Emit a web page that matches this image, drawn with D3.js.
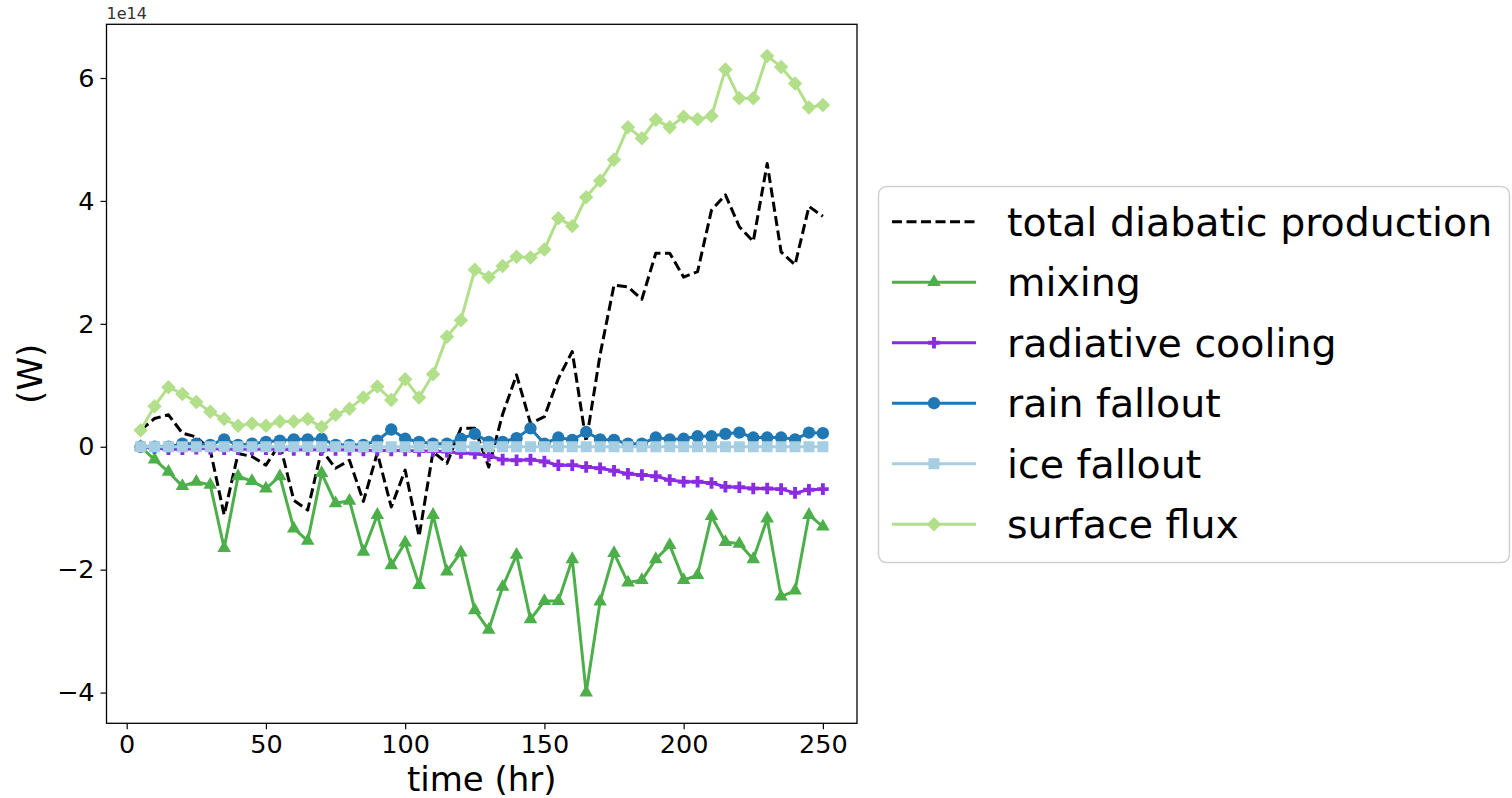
<!DOCTYPE html>
<html>
<head>
<meta charset="utf-8">
<script src="https://cdn.jsdelivr.net/npm/d3@7"></script>
<style>
  html, body { margin: 0; padding: 0; background: #fff; }
  svg { display: block; font-family: "DejaVu Sans", sans-serif; }
</style>
</head>
<body>
<svg id="chart" width="1512" height="798"></svg>
<script>
// ---- data (values in units of 1e14 W) ----
const time = d3.range(5, 251, 5);
const totalDiabatic = [0.27, 0.46, 0.52, 0.22, 0.16, -0.05, -1.11, -0.11, -0.16, -0.30,
  0.05, -0.87, -1.03, -0.05, -0.35, -0.22, -0.89, -0.10, -0.98, -0.38,
  -1.46, -0.08, -0.27, 0.30, 0.30, -0.33, 0.53, 1.17, 0.38, 0.49,
  1.11, 1.55, 0.08, 1.50, 2.63, 2.60, 2.40, 3.15, 3.15, 2.76,
  2.85, 3.85, 4.10, 3.58, 3.34, 4.61, 3.17, 2.96, 3.91, 3.75];
const mixing = [0.0, -0.21, -0.41, -0.64, -0.57, -0.62, -1.65, -0.48, -0.56, -0.68,
  -0.48, -1.33, -1.53, -0.43, -0.92, -0.88, -1.71, -1.11, -1.93, -1.56,
  -2.25, -1.11, -2.03, -1.72, -2.66, -2.98, -2.28, -1.76, -2.81, -2.51,
  -2.51, -1.83, -4.00, -2.52, -1.73, -2.21, -2.17, -1.83, -1.60, -2.17,
  -2.09, -1.13, -1.55, -1.58, -1.83, -1.17, -2.44, -2.34, -1.11, -1.30];
const radiativeCooling = [0.0, -0.02, -0.04, -0.04, -0.03, -0.03, -0.04, -0.04, -0.04, -0.04,
  -0.04, -0.05, -0.05, -0.05, -0.05, -0.05, -0.06, -0.06, -0.06, -0.06,
  -0.07, -0.07, -0.08, -0.10, -0.11, -0.15, -0.21, -0.22, -0.21, -0.24,
  -0.30, -0.30, -0.33, -0.35, -0.39, -0.44, -0.46, -0.48, -0.54, -0.57,
  -0.57, -0.59, -0.65, -0.66, -0.68, -0.68, -0.69, -0.75, -0.70, -0.69];
const rainFallout = [0.0, 0.0, 0.0, 0.05, 0.05, 0.03, 0.12, 0.03, 0.05, 0.08,
  0.10, 0.12, 0.12, 0.13, 0.03, 0.03, 0.03, 0.10, 0.28, 0.13,
  0.08, 0.05, 0.05, 0.13, 0.21, 0.08, 0.08, 0.14, 0.30, 0.05,
  0.15, 0.11, 0.24, 0.12, 0.11, 0.05, 0.05, 0.15, 0.12, 0.13,
  0.17, 0.17, 0.21, 0.23, 0.15, 0.15, 0.15, 0.12, 0.23, 0.22];
const iceFallout = time.map(() => 0.0);
const surfaceFlux = [0.27, 0.66, 0.97, 0.86, 0.73, 0.57, 0.45, 0.34, 0.38, 0.34,
  0.41, 0.41, 0.45, 0.32, 0.52, 0.62, 0.80, 0.98, 0.76, 1.10,
  0.80, 1.18, 1.79, 2.06, 2.88, 2.76, 2.94, 3.09, 3.08, 3.21,
  3.72, 3.59, 4.06, 4.33, 4.67, 5.20, 5.02, 5.32, 5.20, 5.37,
  5.33, 5.38, 6.14, 5.67, 5.67, 6.36, 6.18, 5.91, 5.52, 5.56];
const seriesNames = ["total diabatic production", "mixing", "radiative cooling", "rain fallout", "ice fallout", "surface flux"];
const xTicks = [0, 50, 100, 150, 200, 250];
const yTicks = [-4, -2, 0, 2, 4, 6];

// ---- styles ----
const styles = [
  { color: "#000000", marker: null, dash: "10,4.5" },
  { color: "#4daf4a", marker: "triangle" },
  { color: "#8a2be2", marker: "plus" },
  { color: "#1f78b4", marker: "circle" },
  { color: "#a6cee3", marker: "square" },
  { color: "#b2df8a", marker: "diamond" }
];
const seriesValues = [totalDiabatic, mixing, radiativeCooling, rainFallout, iceFallout, surfaceFlux];

const svg = d3.select("#chart");
const plot = { left: 106.5, right: 857, top: 24.3, bottom: 723.3 };

const x = d3.scaleLinear().domain([-7.25, 262.25]).range([plot.left, plot.right]);
const y = d3.scaleLinear().domain([-4.50, 6.874]).range([plot.bottom, plot.top]);

function markerPath(kind) {
  switch (kind) {
    case "triangle": return d3.symbol(d3.symbolTriangle, 80)();
    case "plus": return d3.symbol(d3.symbolCross, 75)();
    case "circle": return d3.symbol(d3.symbolCircle, 120)();
    case "square": return d3.symbol(d3.symbolSquare, 121)();
    case "diamond": return d3.symbol(d3.symbolSquare, 105)();
  }
  return null;
}

// axes
const xAxis = d3.axisBottom(x).tickValues(xTicks).tickSize(6).tickPadding(6).tickFormat(d3.format("d"));
const yAxis = d3.axisLeft(y).tickValues(yTicks).tickSize(6).tickPadding(6)
  .tickFormat(d => d < 0 ? "\u2212" + Math.abs(d) : String(d));

const gx = svg.append("g").attr("transform", `translate(0,${plot.bottom})`).call(xAxis);
const gy = svg.append("g").attr("transform", `translate(${plot.left},0)`).call(yAxis);
[gx, gy].forEach(g => {
  g.select(".domain").remove();
  g.selectAll(".tick line").attr("stroke", "#000").attr("stroke-width", 1.2);
  g.selectAll(".tick text").attr("fill", "#000").style("font-size", "25.5px").style("font-family", "DejaVu Sans");
});

// series
const line = d3.line().x((d, i) => x(time[i])).y(d => y(d));
const gSeries = svg.append("g");
seriesValues.forEach((vals, si) => {
  const st = styles[si];
  const g = gSeries.append("g");
  g.append("path").attr("d", line(vals)).attr("fill", "none")
    .attr("stroke", st.color).attr("stroke-width", 3)
    .attr("stroke-linejoin", "round")
    .attr("stroke-dasharray", st.dash || null);
  if (st.marker) {
    const p = markerPath(st.marker);
    g.selectAll("path.m").data(vals).join("path").attr("class", "m")
      .attr("d", p)
      .attr("fill", st.color)
      .attr("transform", (d, i) => `translate(${x(time[i])},${y(d)})` + (st.marker === "diamond" ? " rotate(45)" : ""));
  }
});

// frame
svg.append("rect").attr("x", plot.left).attr("y", plot.top)
  .attr("width", plot.right - plot.left).attr("height", plot.bottom - plot.top)
  .attr("fill", "none").attr("stroke", "#000").attr("stroke-width", 1.3);

// offset text
svg.append("text").attr("x", plot.left).attr("y", 19).text("1e14")
  .style("font-size", "16px").attr("fill", "#333");

// axis labels
svg.append("text").attr("x", (x(-7.25) + x(262.25)) / 2).attr("y", 791)
  .attr("text-anchor", "middle").style("font-size", "34px").text("time (hr)");
svg.append("text").attr("transform", `translate(42,${(plot.top + plot.bottom) / 2}) rotate(-90)`)
  .attr("text-anchor", "middle").style("font-size", "34px").text("(W)");

// legend
const leg = svg.append("g");
leg.append("rect").attr("x", 878.5).attr("y", 186.5).attr("width", 631).attr("height", 376)
  .attr("rx", 8).attr("fill", "#fff").attr("stroke", "#d0d0d0").attr("stroke-width", 1.5);
seriesNames.forEach((name, i) => {
  const st = styles[i];
  const cy = 221.7 + i * 60.5;
  leg.append("line").attr("x1", 892).attr("x2", 976).attr("y1", cy).attr("y2", cy)
    .attr("stroke", st.color).attr("stroke-width", 3).attr("stroke-dasharray", st.dash || null);
  if (st.marker) {
    leg.append("path").attr("d", markerPath(st.marker)).attr("fill", st.color)
      .attr("transform", `translate(934,${cy})` + (st.marker === "diamond" ? " rotate(45)" : ""));
  }
  leg.append("text").attr("x", 1007).attr("y", cy + 14).style("font-size", "39.5px").text(name);
});
</script>
</body>
</html>
